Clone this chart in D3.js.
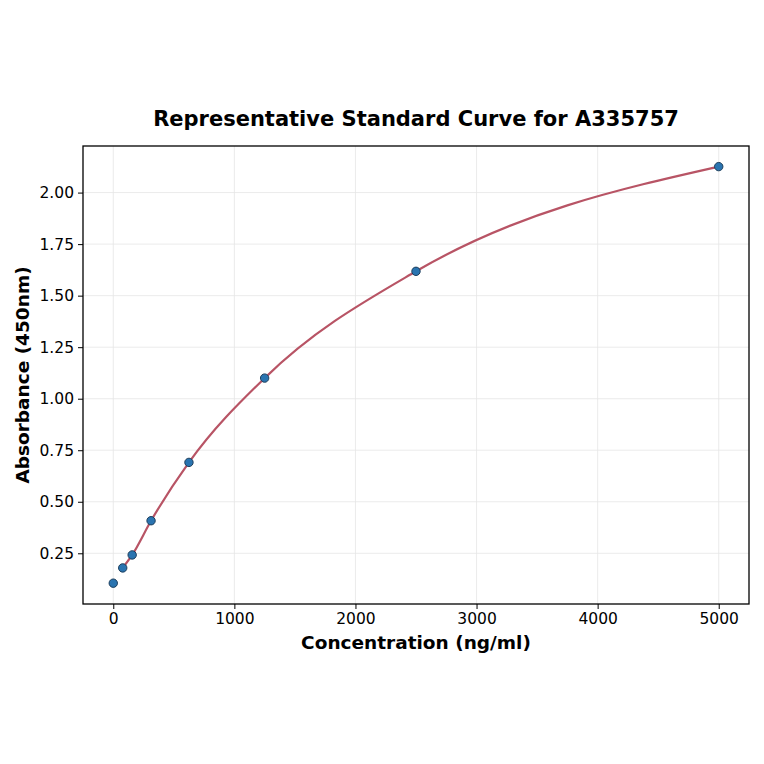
<!DOCTYPE html>
<html>
<head>
<meta charset="utf-8">
<script src="https://cdn.jsdelivr.net/npm/d3@7"></script>
<style>
  html, body { margin: 0; padding: 0; background: #fff; }
  svg { display: block; font-family: "DejaVu Sans", sans-serif; }
</style>
</head>
<body>
<div id="chart"></div>
<script>
// data
const concentrations = [0, 78, 156, 312, 625, 1250, 2500, 5000];
const absorbances = [0.105, 0.179, 0.242, 0.408, 0.691, 1.10, 1.618, 2.126];
const xTicks = [0, 1000, 2000, 3000, 4000, 5000];
const yTicks = [0.25, 0.50, 0.75, 1.00, 1.25, 1.50, 1.75, 2.00];

const width = 764, height = 764;
const margin = { top: 146, right: 15, bottom: 160, left: 83 };

const svg = d3.select("#chart").append("svg")
    .attr("width", width)
    .attr("height", height);

const x = d3.scaleLinear()
    .domain([-250, 5250])
    .range([margin.left, width - margin.right]);

const y = d3.scaleLinear()
    .domain([0.004, 2.226])
    .range([height - margin.bottom, margin.top]);

const points = concentrations.map((c, i) => ({ x: c, y: absorbances[i] }));

// grid
const grid = svg.append("g").attr("stroke", "#e6e6e6").attr("stroke-width", 0.8);
grid.selectAll(".gx").data(xTicks).enter().append("line")
    .attr("x1", d => x(d)).attr("x2", d => x(d))
    .attr("y1", margin.top).attr("y2", height - margin.bottom);
grid.selectAll(".gy").data(yTicks).enter().append("line")
    .attr("x1", margin.left).attr("x2", width - margin.right)
    .attr("y1", d => y(d)).attr("y2", d => y(d));

// axes
const xAxis = svg.append("g")
    .attr("transform", `translate(0,${height - margin.bottom})`)
    .call(d3.axisBottom(x).tickValues(xTicks).tickFormat(d3.format("d")).tickSizeOuter(0).tickSize(5).tickPadding(4))
    .call(g => g.select(".domain").remove());

const yAxis = svg.append("g")
    .attr("transform", `translate(${margin.left},0)`)
    .call(d3.axisLeft(y).tickValues(yTicks).tickFormat(d3.format(".2f")).tickSizeOuter(0).tickSize(5).tickPadding(4))
    .call(g => g.select(".domain").remove());

[xAxis, yAxis].forEach(a => {
    a.attr("font-size", null).attr("font-family", null);
    a.selectAll("text")
        .style("font-size", "15.5px")
        .style("font-family", "'DejaVu Sans', sans-serif")
        .attr("fill", "#000");
    a.selectAll(".tick line").attr("stroke", "#000").attr("stroke-width", 1);
});

// fitted curve (through the standards, excluding blank)
const line = d3.line()
    .x(d => x(d.x))
    .y(d => y(d.y))
    .curve(d3.curveMonotoneX);

svg.append("path")
    .datum(points.slice(1))
    .attr("fill", "none")
    .attr("stroke", "#b85465")
    .attr("stroke-width", 2.2)
    .attr("d", line);

// points
svg.selectAll(".pt").data(points).enter().append("circle")
    .attr("cx", d => x(d.x))
    .attr("cy", d => y(d.y))
    .attr("r", 4.2)
    .attr("fill", "#2a74b0")
    .attr("stroke", "#1d3e5c")
    .attr("stroke-width", 1);

// frame
svg.append("rect")
    .attr("x", margin.left).attr("y", margin.top)
    .attr("width", width - margin.left - margin.right)
    .attr("height", height - margin.top - margin.bottom)
    .attr("fill", "none").attr("stroke", "#000").attr("stroke-width", 1.3);

// title and labels
const cx = (margin.left + width - margin.right) / 2;
svg.append("text")
    .attr("x", cx).attr("y", 126)
    .attr("text-anchor", "middle")
    .attr("font-size", "21px").attr("font-weight", "bold")
    .text("Representative Standard Curve for A335757");

svg.append("text")
    .attr("x", cx).attr("y", 649)
    .attr("text-anchor", "middle")
    .attr("font-size", "18.5px").attr("font-weight", "bold")
    .text("Concentration (ng/ml)");

svg.append("text")
    .attr("transform", `translate(29,${(margin.top + height - margin.bottom) / 2}) rotate(-90)`)
    .attr("text-anchor", "middle")
    .attr("font-size", "18.5px").attr("font-weight", "bold")
    .text("Absorbance (450nm)");
</script>
</body>
</html>
